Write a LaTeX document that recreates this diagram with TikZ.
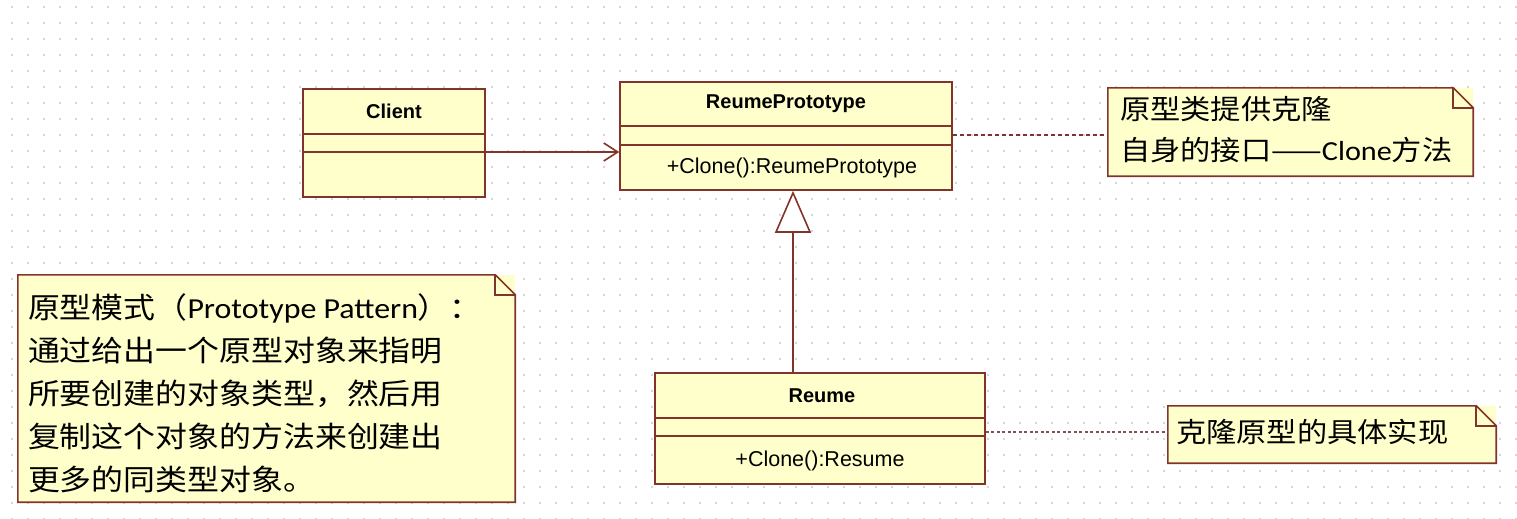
\documentclass[tikz,border=0pt]{standalone}
\usepackage{fontspec}
\setsansfont{Liberation Sans}
\newfontfamily\cjk[FakeStretch=1.1]{Noto Sans CJK SC}
\newfontfamily\notelatin[FakeStretch=1.1]{Carlito}
\usepackage{tikz}
\usetikzlibrary{arrows.meta}
\definecolor{umlFill}{RGB}{255,255,204}
\definecolor{umlLine}{RGB}{130,52,44}
\definecolor{gridDot}{RGB}{214,214,214}

\begin{document}
\begin{tikzpicture}[x=1pt, y=-1pt,
  classbox/.style={draw=umlLine, fill=umlFill, line width=1.6pt, inner sep=0pt},
  classline/.style={umlLine, line width=1.6pt},
  classname/.style={font=\sffamily\bfseries\fontsize{20}{24}\selectfont},
  classop/.style={font=\sffamily\fontsize{21.5}{24}\selectfont},
  notebox/.style={fill=umlFill, inner sep=0pt},
  notetext/.style={anchor=west, inner sep=0pt, align=left,
    font=\cjk\fontsize{27.5}{41}\selectfont},
  noteline/.style={umlLine, line width=1.6pt, line join=miter},
  notelink/.style={umlLine, line width=1.4pt, dash pattern=on 4pt off 3pt}]
\def\d{20}
% background and dotted grid
\useasboundingbox (0,0) rectangle (1517,519);
\fill[white] (0,0) rectangle (1517,519);
\foreach \gy in {7,23,...,519}
  \draw[gridDot, line width=2pt, dash pattern=on 2pt off 14pt] (11,\gy) -- (1517,\gy);

% classes
\node[classbox, minimum width=182, minimum height=108] (client) at (394,143) {};
\node[classname] (clientName) at (394,111) {Client};
\draw[classline] (303,134) -- (485,134);
\draw[classline] (303,152) -- (485,152);

\node[classbox, minimum width=332, minimum height=108] (proto) at (786,136) {};
\node[classname] (protoName) at (786,104) {ReumePrototype};
\draw[classline] (620,126) -- (952,126);
\draw[classline] (620,145) -- (952,145);
\node[classop] (protoOp) at (792,168) {+Clone():ReumePrototype};

\node[classbox, minimum width=330, minimum height=111] (reume) at (820,428.5) {};
\node[classname] (reumeName) at (822,396) {Reume};
\draw[classline] (655,418) -- (985,418);
\draw[classline] (655,436) -- (985,436);
\node[classop] (reumeOp) at (820,461) {+Clone():Resume};

% notes
\node[notebox, minimum width=365, minimum height=88] (noteClone) at (1290.5,132) {};
\node[notetext, xshift=12pt] (noteCloneText) at ([yshift=2pt]noteClone.west)
  {原型类提供克隆\\自身的接口——{\notelatin Clone}方法};
\node[notebox, minimum width=328, minimum height=57] (noteImpl) at (1332,434.5) {};
\node[notetext, xshift=8pt] (noteImplText) at ([yshift=3pt]noteImpl.west) {克隆原型的具体实现};
\node[notebox, minimum width=497, minimum height=227] (notePattern) at (266.5,388.5) {};
\node[notetext, xshift=10pt, font=\cjk\fontsize{29}{43}\selectfont] (notePatternText)
  at ([yshift=-4.5pt]notePattern.west)
  {原型模式（{\notelatin Prototype Pattern}）：\\通过给出一个原型对象来指明\\所要创建的对象类型，然后用\\复制这个对象的方法来创建出\\更多的同类型对象。};
\foreach \n in {noteClone,noteImpl,notePattern} {
  \draw[noteline] (\n.north west) -- ([xshift=-\d pt]\n.north east)
    -- ([yshift=-\d pt]\n.north east) -- (\n.south east) -- (\n.south west) -- cycle;
  \draw[noteline] ([xshift=-\d pt]\n.north east) |- ([yshift=-\d pt]\n.north east);
}

% relations
\coordinate (gen) at (793,300);
\draw[classline, -{Straight Barb[length=14pt, width=18pt]}] (client.east |- 0,152) -- (proto.west |- 0,152);
\draw[classline, -{Triangle[length=42pt, width=36pt, fill=white]}] (gen |- reume.north) -- (gen |- proto.south);
\draw[notelink] (proto.east |- 0,135) -- (noteClone.west |- 0,135);
\draw[notelink, umlLine!60!gray, dash pattern=on 3pt off 2.5pt] (reume.east |- 0,432) -- (noteImpl.west |- 0,432);
\end{tikzpicture}
\end{document}
